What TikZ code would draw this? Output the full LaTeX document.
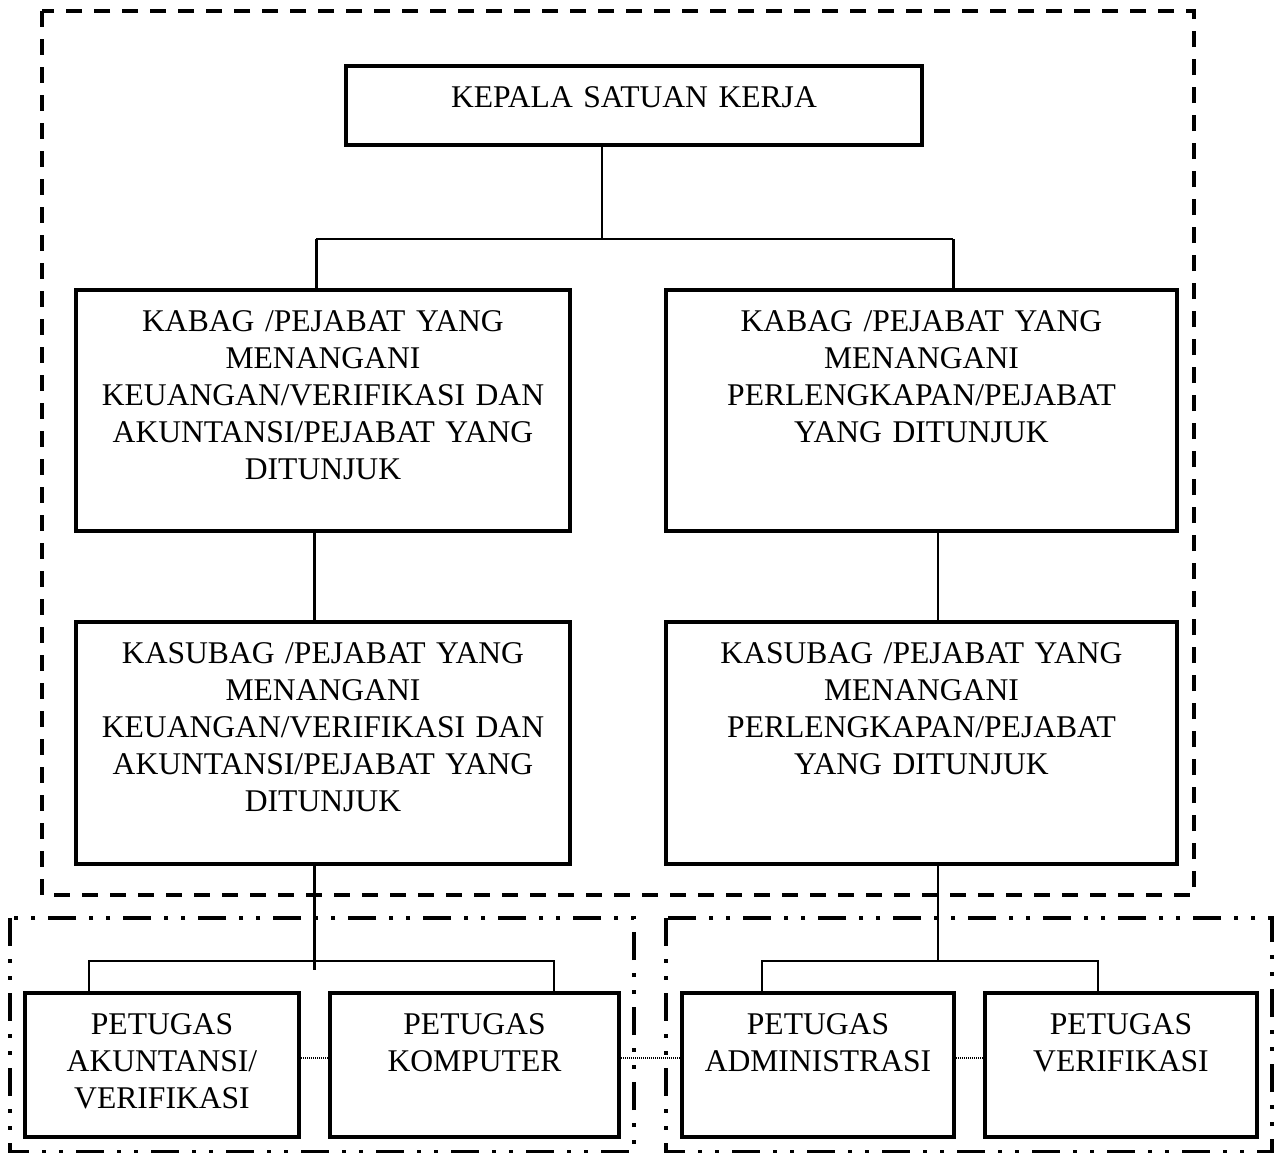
\documentclass[tikz,border=0pt]{standalone}
\usepackage{fontspec}
\setmainfont{Liberation Serif}
\usepackage{tikz}

\tikzset{
  kotak/.style={draw, line width=2pt, inner xsep=0pt, inner ysep=0pt, outer sep=0pt,
    align=center, anchor=north, text height=20.5pt,
    font=\fontsize{15.8pt}{18.5pt}\selectfont},
  tipis/.style={line width=0.75pt},
  tebal/.style={line width=1.5pt},
  titik/.style={line width=0.6pt, dash pattern=on 0.5pt off 0.5pt},
  batas/.style={line width=2pt, dash pattern=on 8pt off 6pt},
  kelompok/.style={line width=2pt, dash pattern=on 14pt off 6.5pt on 2pt off 6.5pt on 2pt off 6.5pt}
}

\begin{document}
\begin{tikzpicture}[x=0.5pt, y=-0.5pt]
\useasboundingbox (0,0) rectangle (1274,1152);

\draw[batas] (42,11) rectangle (1194,895);
\draw[kelompok] (10,918) rectangle (634,1152);
\draw[kelompok] (666,918) rectangle (1272,1152);

\node[kotak, text width=288pt, text depth=19pt] (kepala) at (634,66) {KEPALA SATUAN KERJA};

\node[kotak, text width=247pt, text depth=100pt] (kabagKiri) at (323,290)
  {KABAG /PEJABAT YANG\\ MENANGANI\\ KEUANGAN/VERIFIKASI DAN\\ AKUNTANSI/PEJABAT YANG\\ DITUNJUK};
\node[kotak, text width=255.5pt, text depth=100pt] (kabagKanan) at (921.5,290)
  {KABAG /PEJABAT YANG\\ MENANGANI\\ PERLENGKAPAN/PEJABAT\\ YANG DITUNJUK};

\node[kotak, text width=247pt, text depth=100.5pt] (kasubagKiri) at (323,622)
  {KASUBAG /PEJABAT YANG\\ MENANGANI\\ KEUANGAN/VERIFIKASI DAN\\ AKUNTANSI/PEJABAT YANG\\ DITUNJUK};
\node[kotak, text width=255.5pt, text depth=100.5pt] (kasubagKanan) at (921.5,622)
  {KASUBAG /PEJABAT YANG\\ MENANGANI\\ PERLENGKAPAN/PEJABAT\\ YANG DITUNJUK};

\node[kotak, text width=137pt, text depth=51.5pt] (akuntansi) at (162,993) {PETUGAS\\ AKUNTANSI/\\ VERIFIKASI};
\node[kotak, text width=144.5pt, text depth=51.5pt] (komputer) at (474.5,993) {PETUGAS\\ KOMPUTER};
\node[kotak, text width=136pt, text depth=51.5pt] (administrasi) at (818,993) {PETUGAS\\ ADMINISTRASI};
\node[kotak, text width=136pt, text depth=51.5pt] (verifikasi) at (1121,993) {PETUGAS\\ VERIFIKASI};

% titik cabang
\coordinate (puncak) at (602,239);
\coordinate (atasKiri) at (316,239);
\coordinate (atasKanan) at (953,239);
\coordinate (cabangKiri) at (314,961);
\coordinate (ujungKiri) at (314,970);
\coordinate (cabangKanan) at (938,961);
\coordinate (a1) at (89,961);
\coordinate (a2) at (554,961);
\coordinate (b1) at (762,961);
\coordinate (b2) at (1098,961);

\draw[tipis] (kepala.south -| puncak) -- (puncak);
\draw[tipis] (atasKiri) -- (atasKanan);
\draw[tebal] (atasKiri) -- (kabagKiri.north -| atasKiri);
\draw[tebal] (atasKanan) -- (kabagKanan.north -| atasKanan);

\draw[tebal] (kabagKiri.south -| cabangKiri) -- (kasubagKiri.north -| cabangKiri);
\draw[tipis] (kabagKanan.south -| cabangKanan) -- (kasubagKanan.north -| cabangKanan);

\draw[tebal] (kasubagKiri.south -| cabangKiri) -- (ujungKiri);
\draw[tipis] (akuntansi.north -| a1) -- (a1) -- (a2) -- (komputer.north -| a2);
\draw[tipis] (kasubagKanan.south -| cabangKanan) -- (cabangKanan);
\draw[tipis] (administrasi.north -| b1) -- (b1) -- (b2) -- (verifikasi.north -| b2);

\draw[titik] ([yshift=3.5pt]akuntansi.east) -- ([yshift=3.5pt]komputer.west);
\draw[titik] ([yshift=3.5pt]komputer.east) -- ([yshift=3.5pt]administrasi.west);
\draw[titik] ([yshift=3.5pt]administrasi.east) -- ([yshift=3.5pt]verifikasi.west);
\end{tikzpicture}
\end{document}
